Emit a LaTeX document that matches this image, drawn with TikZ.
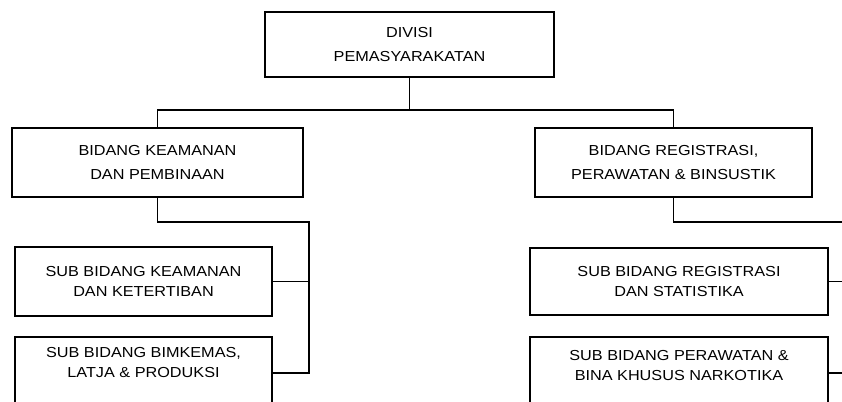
\documentclass[tikz,border=0pt]{standalone}
\usepackage{fontspec}
\setmainfont{Liberation Sans}[FakeStretch=1.12]
\begin{document}
\begin{tikzpicture}[x=1pt,y=-1pt,
  orgbox/.style={draw=black,line width=1.2pt,inner sep=0pt,outer sep=0pt,align=center},
  bigtxt/.style={font=\fontsize{14.5}{24}\selectfont},
  subtxt/.style={font=\fontsize{14.5}{20}\selectfont},
  conn/.style={draw=black,line width=1.2pt}]
\useasboundingbox (0,0) rectangle (842,401);
\clip (0,0) rectangle (842,401);
% top
\node[orgbox,bigtxt,minimum width=289pt,minimum height=65pt] (top) at (409.5,44.5) {DIVISI\\PEMASYARAKATAN};
% bidang
\node[orgbox,bigtxt,minimum width=291pt,minimum height=69pt] (bidL) at (157.5,162.5) {BIDANG KEAMANAN\\DAN PEMBINAAN};
\node[orgbox,bigtxt,minimum width=277pt,minimum height=69pt] (bidR) at (673.5,162.5) {BIDANG REGISTRASI,\\PERAWATAN \& BINSUSTIK};
% sub left
\node[orgbox,subtxt,minimum width=257pt,minimum height=69pt] (lsub1) at (143.5,281.5) {SUB BIDANG KEAMANAN\\DAN KETERTIBAN};
\node[orgbox,minimum width=257pt,minimum height=120pt,anchor=north] (lsub2) at (143.5,337) {};
\node[subtxt,align=center,inner sep=0pt] (lsub2t) at (143.5,363) {SUB BIDANG BIMKEMAS,\\LATJA \& PRODUKSI};
% sub right
\node[orgbox,subtxt,minimum width=298pt,minimum height=67pt] (rsub1) at (679,281.5) {SUB BIDANG REGISTRASI\\DAN STATISTIKA};
\node[orgbox,minimum width=298pt,minimum height=120pt,anchor=north] (rsub2) at (679,337) {};
\node[subtxt,align=center,inner sep=0pt] (rsub2t) at (679,366) {SUB BIDANG PERAWATAN \&\\BINA KHUSUS NARKOTIKA};
% coordinates
\coordinate (bus) at (409.5,110);
\coordinate (lr1) at (309,222);
\coordinate (lr2) at (309,373);
\coordinate (rr1) at (842,222);
\coordinate (rr2) at (842,373);
% connectors
\draw[conn] (top.south) -- (bus);
\draw[conn] (bidL.north) |- (bus) -| (bidR.north);
\draw[conn] (bidL.south) |- (lr1) -- (lr2) -- (lr2 -| lsub2.east);
\draw[conn] (lsub1.east) -- (lsub1.east -| lr1);
\draw[conn] (bidR.south) |- (rr1);
\draw[conn] (rsub1.east) -- (rsub1.east -| rr1);
\draw[conn] (rr2 -| rsub2.east) -- (rr2);
\end{tikzpicture}
\end{document}
